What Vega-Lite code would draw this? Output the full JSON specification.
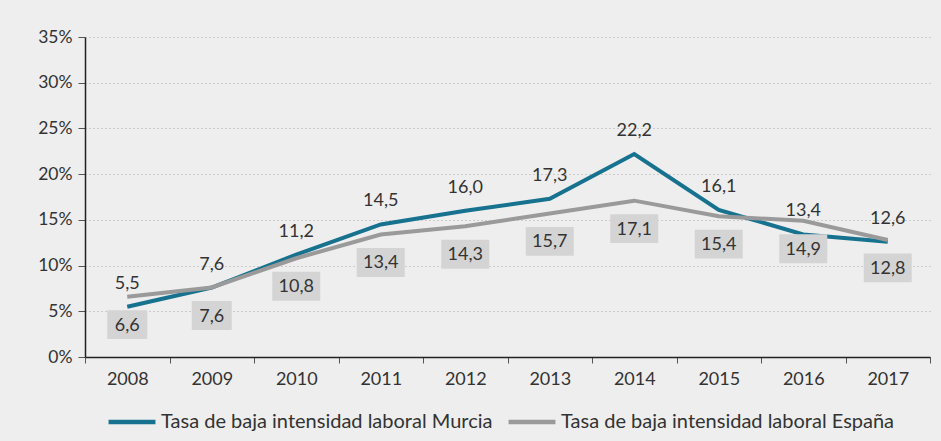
{
  "$schema": "https://vega.github.io/schema/vega-lite/v6.json",
  "width": 845,
  "height": 320,
  "autosize": "none",
  "padding": {"left": 85, "top": 37, "right": 11, "bottom": 84},
  "background": "#eeeeee",
  "config": {
    "locale": {"number": {"decimal": ",", "thousands": ".", "grouping": [3], "currency": ["", " €"]}},
    "font": "Lato",
    "view": {"stroke": null}
  },
  "data": {
    "values": [
      {"year": "2008", "serie": "Tasa de baja intensidad laboral Murcia", "value": 5.5},
      {"year": "2009", "serie": "Tasa de baja intensidad laboral Murcia", "value": 7.6},
      {"year": "2010", "serie": "Tasa de baja intensidad laboral Murcia", "value": 11.2},
      {"year": "2011", "serie": "Tasa de baja intensidad laboral Murcia", "value": 14.5},
      {"year": "2012", "serie": "Tasa de baja intensidad laboral Murcia", "value": 16.0},
      {"year": "2013", "serie": "Tasa de baja intensidad laboral Murcia", "value": 17.3},
      {"year": "2014", "serie": "Tasa de baja intensidad laboral Murcia", "value": 22.2},
      {"year": "2015", "serie": "Tasa de baja intensidad laboral Murcia", "value": 16.1},
      {"year": "2016", "serie": "Tasa de baja intensidad laboral Murcia", "value": 13.4},
      {"year": "2017", "serie": "Tasa de baja intensidad laboral Murcia", "value": 12.6},
      {"year": "2008", "serie": "Tasa de baja intensidad laboral España", "value": 6.6},
      {"year": "2009", "serie": "Tasa de baja intensidad laboral España", "value": 7.6},
      {"year": "2010", "serie": "Tasa de baja intensidad laboral España", "value": 10.8},
      {"year": "2011", "serie": "Tasa de baja intensidad laboral España", "value": 13.4},
      {"year": "2012", "serie": "Tasa de baja intensidad laboral España", "value": 14.3},
      {"year": "2013", "serie": "Tasa de baja intensidad laboral España", "value": 15.7},
      {"year": "2014", "serie": "Tasa de baja intensidad laboral España", "value": 17.1},
      {"year": "2015", "serie": "Tasa de baja intensidad laboral España", "value": 15.4},
      {"year": "2016", "serie": "Tasa de baja intensidad laboral España", "value": 14.9},
      {"year": "2017", "serie": "Tasa de baja intensidad laboral España", "value": 12.8}
    ]
  },
  "encoding": {
    "x": {
      "field": "year", "type": "ordinal", "title": null,
      "scale": {"type": "band", "paddingInner": 0, "paddingOuter": 0},
      "axis": {
        "labelAngle": 0, "labelFontSize": 18, "labelColor": "#333333", "labelPadding": 7,
        "tickBand": "extent", "tickSize": 6, "tickColor": "#555555", "domainColor": "#222222",
        "domainWidth": 1.5, "grid": false
      }
    },
    "y": {
      "field": "value", "type": "quantitative", "title": null,
      "scale": {"domain": [0, 35]},
      "axis": {
        "values": [0, 5, 10, 15, 20, 25, 30, 35],
        "labelExpr": "datum.value + '%'",
        "labelFontSize": 17.5, "labelColor": "#333333", "labelPadding": 6,
        "tickSize": 7, "tickColor": "#555555", "domainColor": "#222222", "domainWidth": 1.5,
        "gridColor": "#aaaaaa", "gridDash": [1, 3], "gridWidth": 1
      }
    }
  },
  "layer": [
    {
      "mark": {"type": "line", "strokeWidth": 4},
      "encoding": {
        "color": {
          "field": "serie", "type": "nominal", "title": null,
          "scale": {
            "domain": ["Tasa de baja intensidad laboral Murcia", "Tasa de baja intensidad laboral España"],
            "range": ["#17728f", "#9a9a9a"]
          },
          "legend": {
            "orient": "none", "direction": "horizontal", "legendX": 21, "legendY": 359,
            "symbolType": "stroke", "symbolStrokeWidth": 4.5, "symbolSize": 2200,
            "labelFontSize": 20, "labelColor": "#333333", "columnPadding": 6, "labelOffset": 3,
            "labelLimit": 500
          }
        }
      }
    },
    {
      "transform": [{"filter": "datum.serie == 'Tasa de baja intensidad laboral España' && datum.value < 10"}],
      "mark": {"type": "point", "filled": true, "opacity": 1, "color": "#d4d4d4", "yOffset": 28,
        "shape": "M-1,-0.72H1V0.72H-1Z", "size": 1600, "strokeWidth": 0}
    },
    {
      "transform": [{"filter": "datum.serie == 'Tasa de baja intensidad laboral España' && datum.value >= 10"}],
      "mark": {"type": "point", "filled": true, "opacity": 1, "color": "#d4d4d4", "yOffset": 28,
        "shape": "M-1,-0.6H1V0.6H-1Z", "size": 2304, "strokeWidth": 0}
    },
    {
      "transform": [{"filter": "datum.serie == 'Tasa de baja intensidad laboral España'"}],
      "mark": {"type": "text", "fontSize": 18, "color": "#333333", "yOffset": 29, "baseline": "middle"},
      "encoding": {"text": {"field": "value", "type": "quantitative", "format": ".1f"}}
    },
    {
      "transform": [{"filter": "datum.serie == 'Tasa de baja intensidad laboral Murcia'"}],
      "mark": {"type": "text", "fontSize": 18, "color": "#333333", "yOffset": -23, "baseline": "middle"},
      "encoding": {"text": {"field": "value", "type": "quantitative", "format": ".1f"}}
    }
  ]
}
